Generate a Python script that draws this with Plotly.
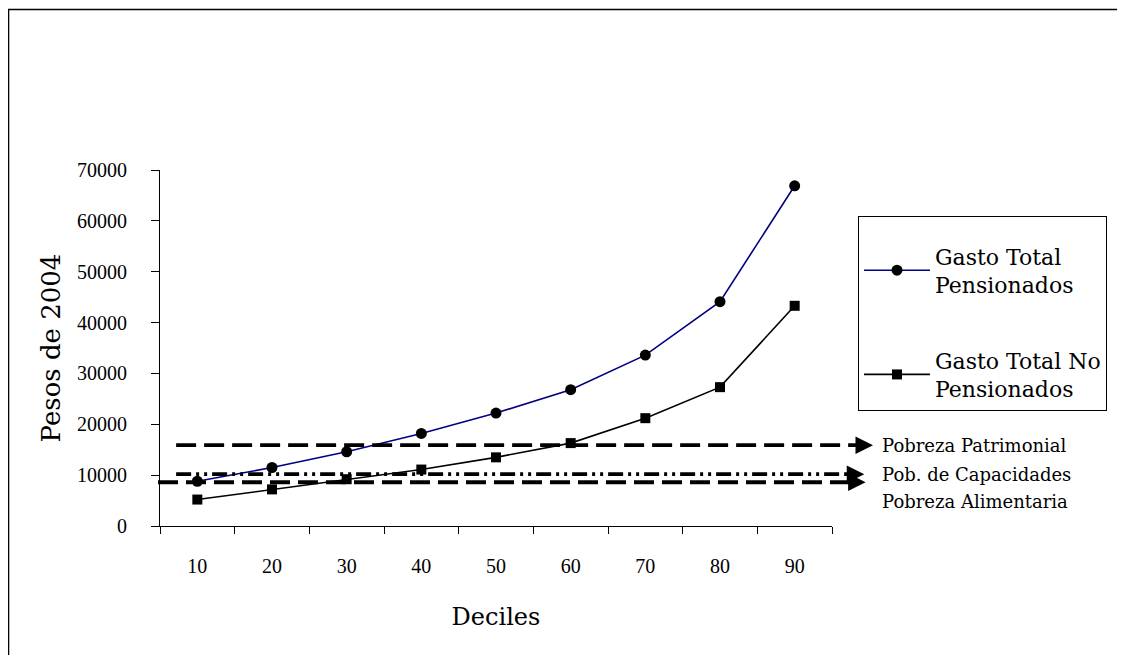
import plotly.graph_objects as go

deciles = ["10", "20", "30", "40", "50", "60", "70", "80", "90"]
gasto_pensionados = [8800, 11500, 14600, 18200, 22200, 26800, 33600, 44100, 66900]
gasto_no_pensionados = [5200, 7200, 9200, 11100, 13500, 16300, 21200, 27300, 43300]

poverty_names = ["Pobreza Patrimonial", "Pob. de Capacidades", "Pobreza Alimentaria"]
poverty_values = [15900, 10200, 8600]

FONT = "DejaVu Serif"
TICKFONT = "Liberation Serif"

fig = go.Figure()
fig.add_trace(go.Scatter(
    x=deciles, y=gasto_pensionados, mode="lines+markers",
    name="Gasto Total<br>Pensionados", legendgroup="a",
    line=dict(color="#000080", width=1.6),
    marker=dict(symbol="circle", size=11, color="black"),
))
fig.add_trace(go.Scatter(
    x=deciles, y=gasto_no_pensionados, mode="lines+markers",
    name="Gasto Total No<br>Pensionados", legendgroup="b",
    line=dict(color="black", width=1.6),
    marker=dict(symbol="square", size=10, color="black"),
))

# poverty lines (styles per line)
line_styles = [
    dict(x0=0.024, x1=1.045, dash="20px,8px", tip=1.061),
    dict(x0=0.024, x1=1.035, dash="15px,5px,3px,5px,3px,5px", tip=1.048),
    dict(x0=-0.003, x1=1.035, dash="20px,8px", tip=1.050),
]
label_shift = [0, 0, -19]
for name, val, st, ys in zip(poverty_names, poverty_values, line_styles, label_shift):
    fig.add_shape(type="line", xref="paper", yref="y",
                  x0=st["x0"], x1=st["x1"], y0=val, y1=val,
                  line=dict(color="black", width=3.8, dash=st["dash"]))
    fig.add_annotation(xref="paper", yref="y", x=st["tip"], y=val,
                       text="", showarrow=True, ax=-8, ay=0,
                       arrowhead=2, arrowsize=1.4, arrowwidth=2.5, arrowcolor="black")
    fig.add_annotation(xref="paper", yref="y", x=1.071, y=val, yshift=ys,
                       text=name, showarrow=False, xanchor="left", yanchor="middle",
                       font=dict(family=FONT, size=18, color="black"))

# outer frame
fig.add_shape(type="rect", xref="paper", yref="paper",
              x0=-0.2254, x1=2, y0=-1, y1=1.4508,
              line=dict(color="black", width=1.5))

fig.update_layout(
    width=1125, height=655,
    margin=dict(l=152, r=301, t=162, b=137),
    paper_bgcolor="white", plot_bgcolor="white",
    font=dict(family=FONT, size=19, color="black"),
    showlegend=True,
    legend=dict(x=1.0387, y=0.871, xanchor="left", yanchor="top",
                bordercolor="black", borderwidth=1,
                font=dict(family=FONT, size=22, color="black"),
                title=dict(text=" ", font=dict(size=14)),
                tracegroupgap=44, itemwidth=66),
)
fig.update_xaxes(
    type="category", range=[-0.5, 8.5],
    showline=True, linecolor="black", linewidth=1,
    ticks="outside", tickson="boundaries", ticklen=7, tickcolor="black",
    showgrid=False, ticklabelstandoff=22,
    tickfont=dict(family=TICKFONT, size=20),
    title=dict(text="Deciles", font=dict(family=FONT, size=24), standoff=32),
)
fig.update_yaxes(
    range=[0, 70000], dtick=10000, tickformat="d",
    showline=True, linecolor="black", linewidth=1,
    ticks="outside", ticklen=8, tickcolor="black",
    showgrid=False, zeroline=False, ticklabelstandoff=20,
    tickfont=dict(family=TICKFONT, size=20),
    title=dict(text="Pesos de 2004", font=dict(family=FONT, size=26), standoff=8),
)

fig.write_html("out.html")
